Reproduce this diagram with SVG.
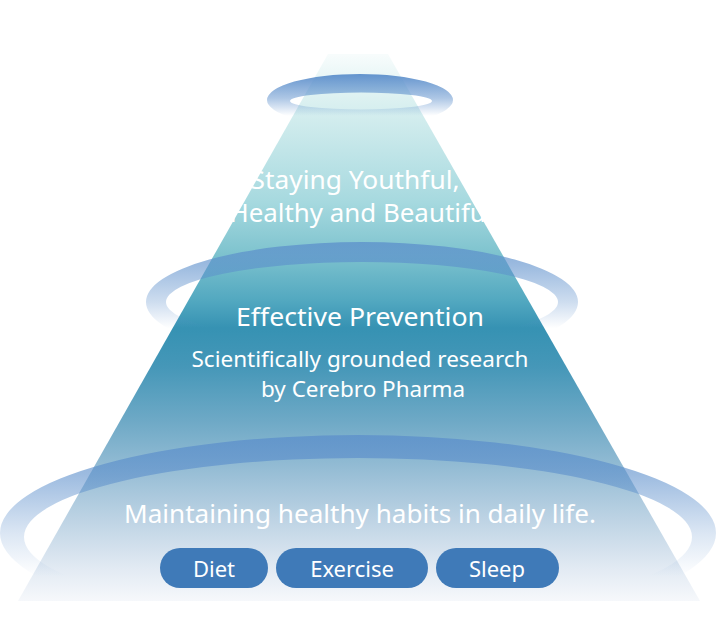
<svg xmlns="http://www.w3.org/2000/svg" width="716" height="636" viewBox="0 0 716 636">
  <style>
    .t { font-family: "Noto Sans", "Open Sans", "DejaVu Sans", sans-serif; font-weight: 400; fill: #ffffff; text-anchor: middle; }
    .h1 { font-size: 25px; }
    .h2 { font-size: 21px; }
    .pill { fill: #3f7ab8; }
    .pt { font-size: 22px; }
  </style>
  <defs>
    <linearGradient id="coneGrad" gradientUnits="userSpaceOnUse" x1="0" y1="55" x2="0" y2="601">
      <stop offset="0" stop-color="#f7fcfc"/>
      <stop offset="0.08" stop-color="#dcf1f1"/>
      <stop offset="0.27" stop-color="#a6d9df"/>
      <stop offset="0.36" stop-color="#80c4cf"/>
      <stop offset="0.45" stop-color="#52a8c0"/>
      <stop offset="0.5" stop-color="#3692b3"/>
      <stop offset="0.57" stop-color="#4597b8"/>
      <stop offset="0.67" stop-color="#6ea9c6"/>
      <stop offset="0.76" stop-color="#96bdd5"/>
      <stop offset="0.85" stop-color="#bdd3e4"/>
      <stop offset="0.94" stop-color="#e2eaf3"/>
      <stop offset="1" stop-color="#f6f8fb"/>
    </linearGradient>
    <linearGradient id="ring1Grad" gradientUnits="userSpaceOnUse" x1="0" y1="74" x2="0" y2="118">
      <stop offset="0" stop-color="#5b8ecb" stop-opacity="0.95"/>
      <stop offset="0.55" stop-color="#5b8ecb" stop-opacity="0.5"/>
      <stop offset="0.95" stop-color="#5b8ecb" stop-opacity="0"/>
    </linearGradient>
    <linearGradient id="ring2Grad" gradientUnits="userSpaceOnUse" x1="0" y1="242" x2="0" y2="362">
      <stop offset="0" stop-color="#5b8ecb" stop-opacity="0.75"/>
      <stop offset="0.2" stop-color="#5b8ecb" stop-opacity="0.6"/>
      <stop offset="0.5" stop-color="#5b8ecb" stop-opacity="0.3"/>
      <stop offset="0.72" stop-color="#5b8ecb" stop-opacity="0"/>
    </linearGradient>
    <linearGradient id="ring3Grad" gradientUnits="userSpaceOnUse" x1="0" y1="435" x2="0" y2="631">
      <stop offset="0" stop-color="#5b8ecb" stop-opacity="0.75"/>
      <stop offset="0.2" stop-color="#5b8ecb" stop-opacity="0.6"/>
      <stop offset="0.5" stop-color="#5b8ecb" stop-opacity="0.22"/>
      <stop offset="0.72" stop-color="#5b8ecb" stop-opacity="0"/>
    </linearGradient>
  </defs>

  <rect width="716" height="636" fill="#ffffff"/>

  <g id="cone">
    <polygon points="328,54 388,54 700,601 18,601" fill="url(#coneGrad)"/>
  </g>

  <g id="rings">
    <path id="ring-top" fill="url(#ring1Grad)" fill-rule="evenodd" d="M267,100 a93,26 0 1,0 186,0 a93,26 0 1,0 -186,0 Z M290,101 a71,8.5 0 1,0 142,0 a71,8.5 0 1,0 -142,0 Z"/>
    <path id="ring-middle" fill="url(#ring2Grad)" fill-rule="evenodd" d="M146,302 a216,60 0 1,0 432,0 a216,60 0 1,0 -432,0 Z M166,302 a196,40 0 1,0 392,0 a196,40 0 1,0 -392,0 Z"/>
    <path id="ring-bottom" fill="url(#ring3Grad)" fill-rule="evenodd" d="M0,533 a358,98 0 1,0 716,0 a358,98 0 1,0 -716,0 Z M24,537 a334,79 0 1,0 668,0 a334,79 0 1,0 -668,0 Z"/>
  </g>

  <g id="tier-top">
    <text class="t h1" x="355" y="189" textLength="209" lengthAdjust="spacingAndGlyphs">Staying Youthful,</text>
    <text class="t h1" x="361" y="222" textLength="263" lengthAdjust="spacingAndGlyphs">Healthy and Beautiful</text>
  </g>

  <g id="tier-middle">
    <text class="t h1" x="360" y="326" textLength="248" lengthAdjust="spacingAndGlyphs">Effective Prevention</text>
    <text class="t h2" x="360" y="367" textLength="337" lengthAdjust="spacingAndGlyphs">Scientifically grounded research</text>
    <text class="t h2" x="363" y="397" textLength="204" lengthAdjust="spacingAndGlyphs">by Cerebro Pharma</text>
  </g>

  <g id="tier-bottom">
    <text class="t h1" x="360" y="523" textLength="472" lengthAdjust="spacingAndGlyphs">Maintaining healthy habits in daily life.</text>
  </g>

  <g id="pill-diet">
    <rect class="pill" x="160" y="548" width="108" height="40" rx="20"/>
    <text class="t pt" x="214" y="577">Diet</text>
  </g>
  <g id="pill-exercise">
    <rect class="pill" x="276" y="548" width="152" height="40" rx="20"/>
    <text class="t pt" x="352" y="577">Exercise</text>
  </g>
  <g id="pill-sleep">
    <rect class="pill" x="436" y="548" width="123" height="40" rx="20"/>
    <text class="t pt" x="497" y="577">Sleep</text>
  </g>

  <g id="connectors"></g>
</svg>
